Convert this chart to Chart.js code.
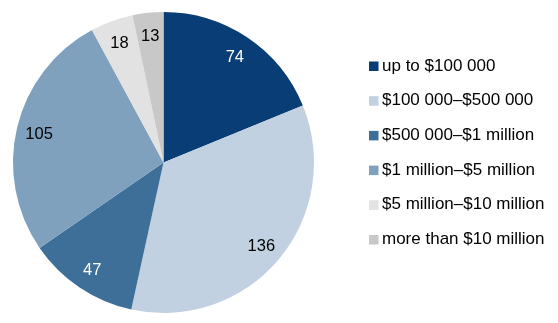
<!DOCTYPE html>
<html>
<head>
<meta charset="utf-8">
<script src="https://cdn.jsdelivr.net/npm/chart.js@4"></script>
<style>
  html, body { margin: 0; padding: 0; background: #fff; }
  #wrap { width: 558px; height: 323px; position: relative; }
</style>
</head>
<body>
<div id="wrap"><canvas id="pie-chart"></canvas></div>
<script>
const categories = [
    "up to $100 000",
    "$100 000\u2013$500 000",
    "$500 000\u2013$1 million",
    "$1 million\u2013$5 million",
    "$5 million\u2013$10 million",
    "more than $10 million"
];
const counts = [74, 136, 47, 105, 18, 13];

const sliceColours = ["#083d75", "#c1d1e1", "#3e6f99", "#7fa1be", "#e2e2e2", "#c8c8c8"];
const labelColours = ["#ffffff", "#000000", "#ffffff", "#000000", "#000000", "#000000"];

const fontFamily = '"Liberation Sans", Arial, Helvetica, sans-serif';

// numbers inside each slice
const sliceLabels = {
    id: "sliceLabels",
    afterDatasetsDraw(chart) {
        const ctx = chart.ctx;
        const meta = chart.getDatasetMeta(0);
        ctx.save();
        ctx.font = "16.5px " + fontFamily;
        ctx.textAlign = "center";
        ctx.textBaseline = "middle";
        meta.data.forEach(function (arc, i) {
            const mid = (arc.startAngle + arc.endAngle) / 2;
            const r = arc.outerRadius * 0.85;
            ctx.fillStyle = labelColours[i];
            ctx.fillText(String(counts[i]), arc.x + Math.cos(mid) * r, arc.y + Math.sin(mid) * r + 1.5);
        });
        ctx.restore();
    }
};

// legend on the right, drawn by hand so the spacing matches
const sideLegend = {
    id: "sideLegend",
    afterDraw(chart) {
        const ctx = chart.ctx;
        const left = chart.chartArea.right + 55;
        const top = 66;
        const step = 34.7;
        ctx.save();
        ctx.font = "17px " + fontFamily;
        ctx.textBaseline = "middle";
        categories.forEach(function (name, i) {
            const y = top + i * step;
            ctx.fillStyle = sliceColours[i];
            ctx.fillRect(left, y - 4.5, 9.5, 9.5);
            ctx.fillStyle = "#000000";
            ctx.fillText(name, left + 13, y);
        });
        ctx.restore();
    }
};

new Chart(document.getElementById("pie-chart"), {
    type: "pie",
    data: {
        labels: categories,
        datasets: [{
            data: counts,
            backgroundColor: sliceColours,
            borderWidth: 0
        }]
    },
    options: {
        responsive: true,
        maintainAspectRatio: false,
        animation: false,
        layout: {
            padding: { left: 13, top: 12, right: 244, bottom: 10 }
        },
        plugins: {
            legend: { display: false },
            tooltip: { enabled: false }
        }
    },
    plugins: [sliceLabels, sideLegend]
});
</script>
</body>
</html>
